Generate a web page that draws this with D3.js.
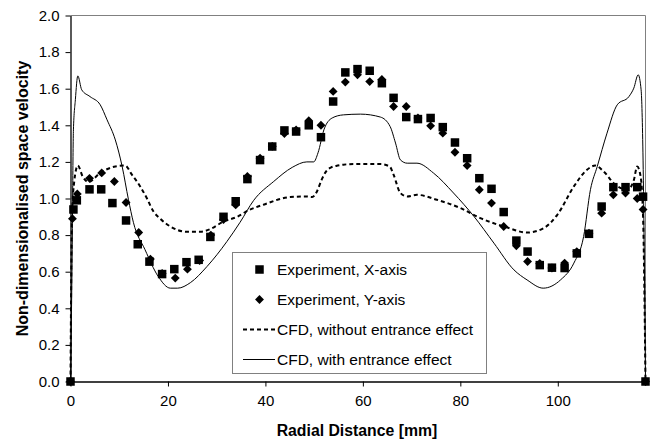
<!DOCTYPE html>
<html>
<head>
<meta charset="utf-8">
<script src="https://cdn.jsdelivr.net/npm/d3@7"></script>
<style>
  html, body { margin: 0; padding: 0; background: #fff; }
  svg { display: block; font-family: "Liberation Sans", Arial, sans-serif; }
</style>
</head>
<body>
<svg id="chart" width="654" height="442"></svg>
<script>
// Measured velocity profiles (radial position in mm, non-dimensional velocity)
const expXPos = [0, 0.6, 1.3, 3.9, 6.3, 8.6, 11.4, 13.8, 16.2, 18.8, 21.3, 23.8, 26.3, 28.7, 31.4, 33.9, 36.3, 38.9, 41.4, 43.9, 46.3, 48.9, 51.4, 53.9, 56.4, 58.9, 61.4, 63.9, 66.3, 68.9, 71.3, 73.9, 76.4, 78.9, 81.4, 83.9, 86.4, 88.9, 91.5, 93.8, 96.3, 98.8, 101.4, 103.9, 106.4, 109.0, 111.4, 113.9, 116.3, 117.5, 118];
const expXVel = [0, 0.94, 0.99, 1.05, 1.05, 0.975, 0.88, 0.75, 0.655, 0.587, 0.614, 0.652, 0.665, 0.79, 0.90, 0.985, 1.106, 1.21, 1.284, 1.372, 1.366, 1.40, 1.335, 1.53, 1.689, 1.707, 1.698, 1.63, 1.55, 1.445, 1.434, 1.44, 1.39, 1.306, 1.22, 1.111, 1.053, 0.926, 0.77, 0.71, 0.636, 0.622, 0.62, 0.70, 0.807, 0.956, 1.062, 1.062, 1.062, 1.01, 0];

const expYPos = [0, 0.4, 1.4, 3.9, 6.4, 9.0, 11.4, 14.0, 16.4, 18.8, 21.5, 24.0, 26.5, 28.8, 31.4, 33.9, 36.3, 38.9, 41.4, 43.9, 46.3, 48.9, 51.4, 53.9, 56.4, 58.9, 61.4, 63.9, 66.3, 68.9, 71.3, 73.9, 76.4, 78.9, 81.4, 83.9, 86.4, 88.9, 91.5, 93.8, 96.3, 98.8, 101.4, 103.9, 106.4, 109.0, 111.4, 113.9, 116.3, 117.5, 118];
const expYVel = [0, 0.89, 1.025, 1.11, 1.14, 1.093, 0.978, 0.814, 0.669, 0.59, 0.565, 0.614, 0.661, 0.80, 0.885, 0.965, 1.12, 1.22, 1.285, 1.355, 1.375, 1.425, 1.40, 1.585, 1.636, 1.676, 1.639, 1.65, 1.503, 1.503, 1.44, 1.397, 1.357, 1.253, 1.18, 1.048, 0.975, 0.847, 0.742, 0.656, 0.645, 0.62, 0.647, 0.71, 0.81, 0.92, 1.02, 1.03, 1.00, 0.94, 0];

// CFD profiles
const cfdNoEntPos = [0, 0.3, 0.8, 1.5, 2.5, 3.7, 6.1, 9.2, 11.2, 12.6, 14.3, 15.7, 17, 18.4, 20.5, 23.9, 26.6, 28.7, 31.4, 34.2, 36.5, 39.6, 45.1, 48.5, 49.6, 50.6, 51.5, 52.5, 53.5, 54.5, 56, 58.1, 63.6, 65.5, 66.3, 67.7, 69.1, 71.1, 75.2, 80, 84.1, 89.3, 93.7, 97.1, 99.9, 103.3, 106, 107.7, 109.4, 111.8, 114.3, 115.6, 116.3, 117, 117.5, 118];
const cfdNoEntVel = [0, 0.9, 1.1, 1.18, 1.12, 1.09, 1.14, 1.175, 1.18, 1.13, 1.066, 1.0, 0.93, 0.89, 0.847, 0.818, 0.818, 0.833, 0.874, 0.90, 0.935, 0.966, 1.008, 1.011, 1.008, 1.04, 1.10, 1.15, 1.17, 1.178, 1.185, 1.188, 1.188, 1.175, 1.13, 1.03, 1.011, 1.02, 0.993, 0.948, 0.893, 0.844, 0.814, 0.838, 0.911, 1.066, 1.157, 1.18, 1.148, 1.075, 1.048, 1.10, 1.175, 1.12, 0.9, 0];

const cfdEntPos = [0, 0.3, 0.6, 1.0, 1.5, 2.3, 4.0, 6.1, 7.5, 9.2, 10.6, 11.9, 12.9, 15.3, 18, 20.5, 22, 24.6, 28, 32.1, 34.8, 37.6, 41.7, 45.5, 48.5, 49.9, 50.8, 52, 53.7, 56, 59.5, 63.6, 65.6, 66.7, 67.7, 69.1, 71.1, 74.5, 78.6, 82.8, 86.9, 91, 93.7, 97, 100.6, 103.3, 105.3, 106.7, 108.1, 110.1, 112.2, 114.6, 115.6, 116.5, 117.1, 117.5, 118];
const cfdEntVel = [0, 0.6, 1.375, 1.54, 1.67, 1.594, 1.557, 1.512, 1.43, 1.32, 1.175, 0.993, 0.87, 0.72, 0.574, 0.51, 0.51, 0.54, 0.628, 0.765, 0.87, 0.99, 1.093, 1.17, 1.2, 1.2, 1.25, 1.375, 1.44, 1.457, 1.461, 1.445, 1.393, 1.303, 1.211, 1.193, 1.193, 1.139, 1.03, 0.902, 0.756, 0.61, 0.555, 0.51, 0.556, 0.647, 0.792, 1.048, 1.175, 1.357, 1.512, 1.557, 1.603, 1.676, 1.594, 1.21, 0];

const xTicks = [0, 20, 40, 60, 80, 100];
const yTicks = [0, 0.2, 0.4, 0.6, 0.8, 1.0, 1.2, 1.4, 1.6, 1.8, 2.0];
const legendLabels = ["Experiment, X-axis", "Experiment, Y-axis", "CFD, without entrance effect", "CFD, with entrance effect"];

const svg = d3.select("#chart");
const plotL = 70.5, plotR = 645.5, plotT = 15.5, plotB = 381.5;

const x = d3.scaleLinear().domain([0, 118]).range([plotL, plotR]);
const y = d3.scaleLinear().domain([0, 2]).range([plotB, plotT]);

// plot frame (top and right edges)
svg.append("path")
  .attr("d", `M${plotL},${plotT}H${plotR}V${plotB}`)
  .attr("fill", "none").attr("stroke", "#808080").attr("stroke-width", 1);

// axes
const xAxis = svg.append("g").attr("transform", `translate(0,${plotB})`)
  .call(d3.axisBottom(x).tickValues(xTicks).tickSize(5).tickSizeOuter(0).tickPadding(9));
const yAxis = svg.append("g").attr("transform", `translate(${plotL},0)`)
  .call(d3.axisLeft(y).tickValues(yTicks).tickFormat(d3.format(".1f")).tickSize(5).tickSizeOuter(0).tickPadding(6));
[xAxis, yAxis].forEach(g => {
  g.selectAll("path.domain").attr("stroke", "#000").attr("stroke-width", 1.3);
  g.selectAll(".tick line").attr("stroke", "#000");
  g.selectAll(".tick text").attr("font-size", 15).attr("fill", "#000")
    .attr("font-family", "'Liberation Sans', Arial, sans-serif");
});

// axis titles
svg.append("text")
  .attr("x", 357).attr("y", 436)
  .attr("text-anchor", "middle").attr("font-weight", "bold").attr("font-size", 15.8)
  .text("Radial Distance [mm]");
svg.append("text")
  .attr("transform", `translate(28,${(plotT + plotB) / 2}) rotate(-90)`)
  .attr("text-anchor", "middle").attr("font-weight", "bold").attr("font-size", 16)
  .text("Non-dimensionalised space velocity");

const plot = svg.append("g");

// markers
const sq = 8.5;
plot.append("g").selectAll("rect").data(expXPos.map((p, i) => [p, expXVel[i]]))
  .join("rect")
  .attr("x", d => x(d[0]) - sq / 2).attr("y", d => y(d[1]) - sq / 2)
  .attr("width", sq).attr("height", sq).attr("fill", "#000");

const diamond = d3.symbol().type(d3.symbolDiamond2).size(50);
plot.append("g").selectAll("path").data(expYPos.map((p, i) => [p, expYVel[i]]))
  .join("path")
  .attr("d", diamond)
  .attr("transform", d => `translate(${x(d[0])},${y(d[1])})`)
  .attr("fill", "#000");

// CFD curves
const line = d3.line().x(d => x(d[0])).y(d => y(d[1])).curve(d3.curveMonotoneX);
plot.append("path")
  .datum(cfdNoEntPos.map((p, i) => [p, cfdNoEntVel[i]]))
  .attr("d", line).attr("fill", "none").attr("stroke", "#000")
  .attr("stroke-width", 2).attr("stroke-dasharray", "4,3");
plot.append("path")
  .datum(cfdEntPos.map((p, i) => [p, cfdEntVel[i]]))
  .attr("d", line).attr("fill", "none").attr("stroke", "#000")
  .attr("stroke-width", 1);

// legend
const lg = svg.append("g");
lg.append("rect").attr("x", 232.5).attr("y", 252.5).attr("width", 254).attr("height", 121)
  .attr("fill", "#fff").attr("stroke", "#808080").attr("stroke-width", 1);
const rowY = [269.5, 299.5, 329.5, 359.5];
const mx = 259.5;
lg.append("rect").attr("x", mx - sq / 2).attr("y", rowY[0] - sq / 2).attr("width", sq).attr("height", sq).attr("fill", "#000");
lg.append("path").attr("d", diamond).attr("transform", `translate(${mx},${rowY[1]})`).attr("fill", "#000");
lg.append("line").attr("x1", 243).attr("x2", 275).attr("y1", rowY[2]).attr("y2", rowY[2])
  .attr("stroke", "#000").attr("stroke-width", 2).attr("stroke-dasharray", "4,3");
lg.append("line").attr("x1", 243).attr("x2", 275).attr("y1", rowY[3]).attr("y2", rowY[3])
  .attr("stroke", "#000").attr("stroke-width", 1);
lg.selectAll("text.lab").data(legendLabels).join("text").attr("class", "lab")
  .attr("x", 277).attr("y", (d, i) => rowY[i]).attr("dy", "0.36em")
  .attr("font-size", 15.5).attr("fill", "#000").text(d => d);
</script>
</body>
</html>
